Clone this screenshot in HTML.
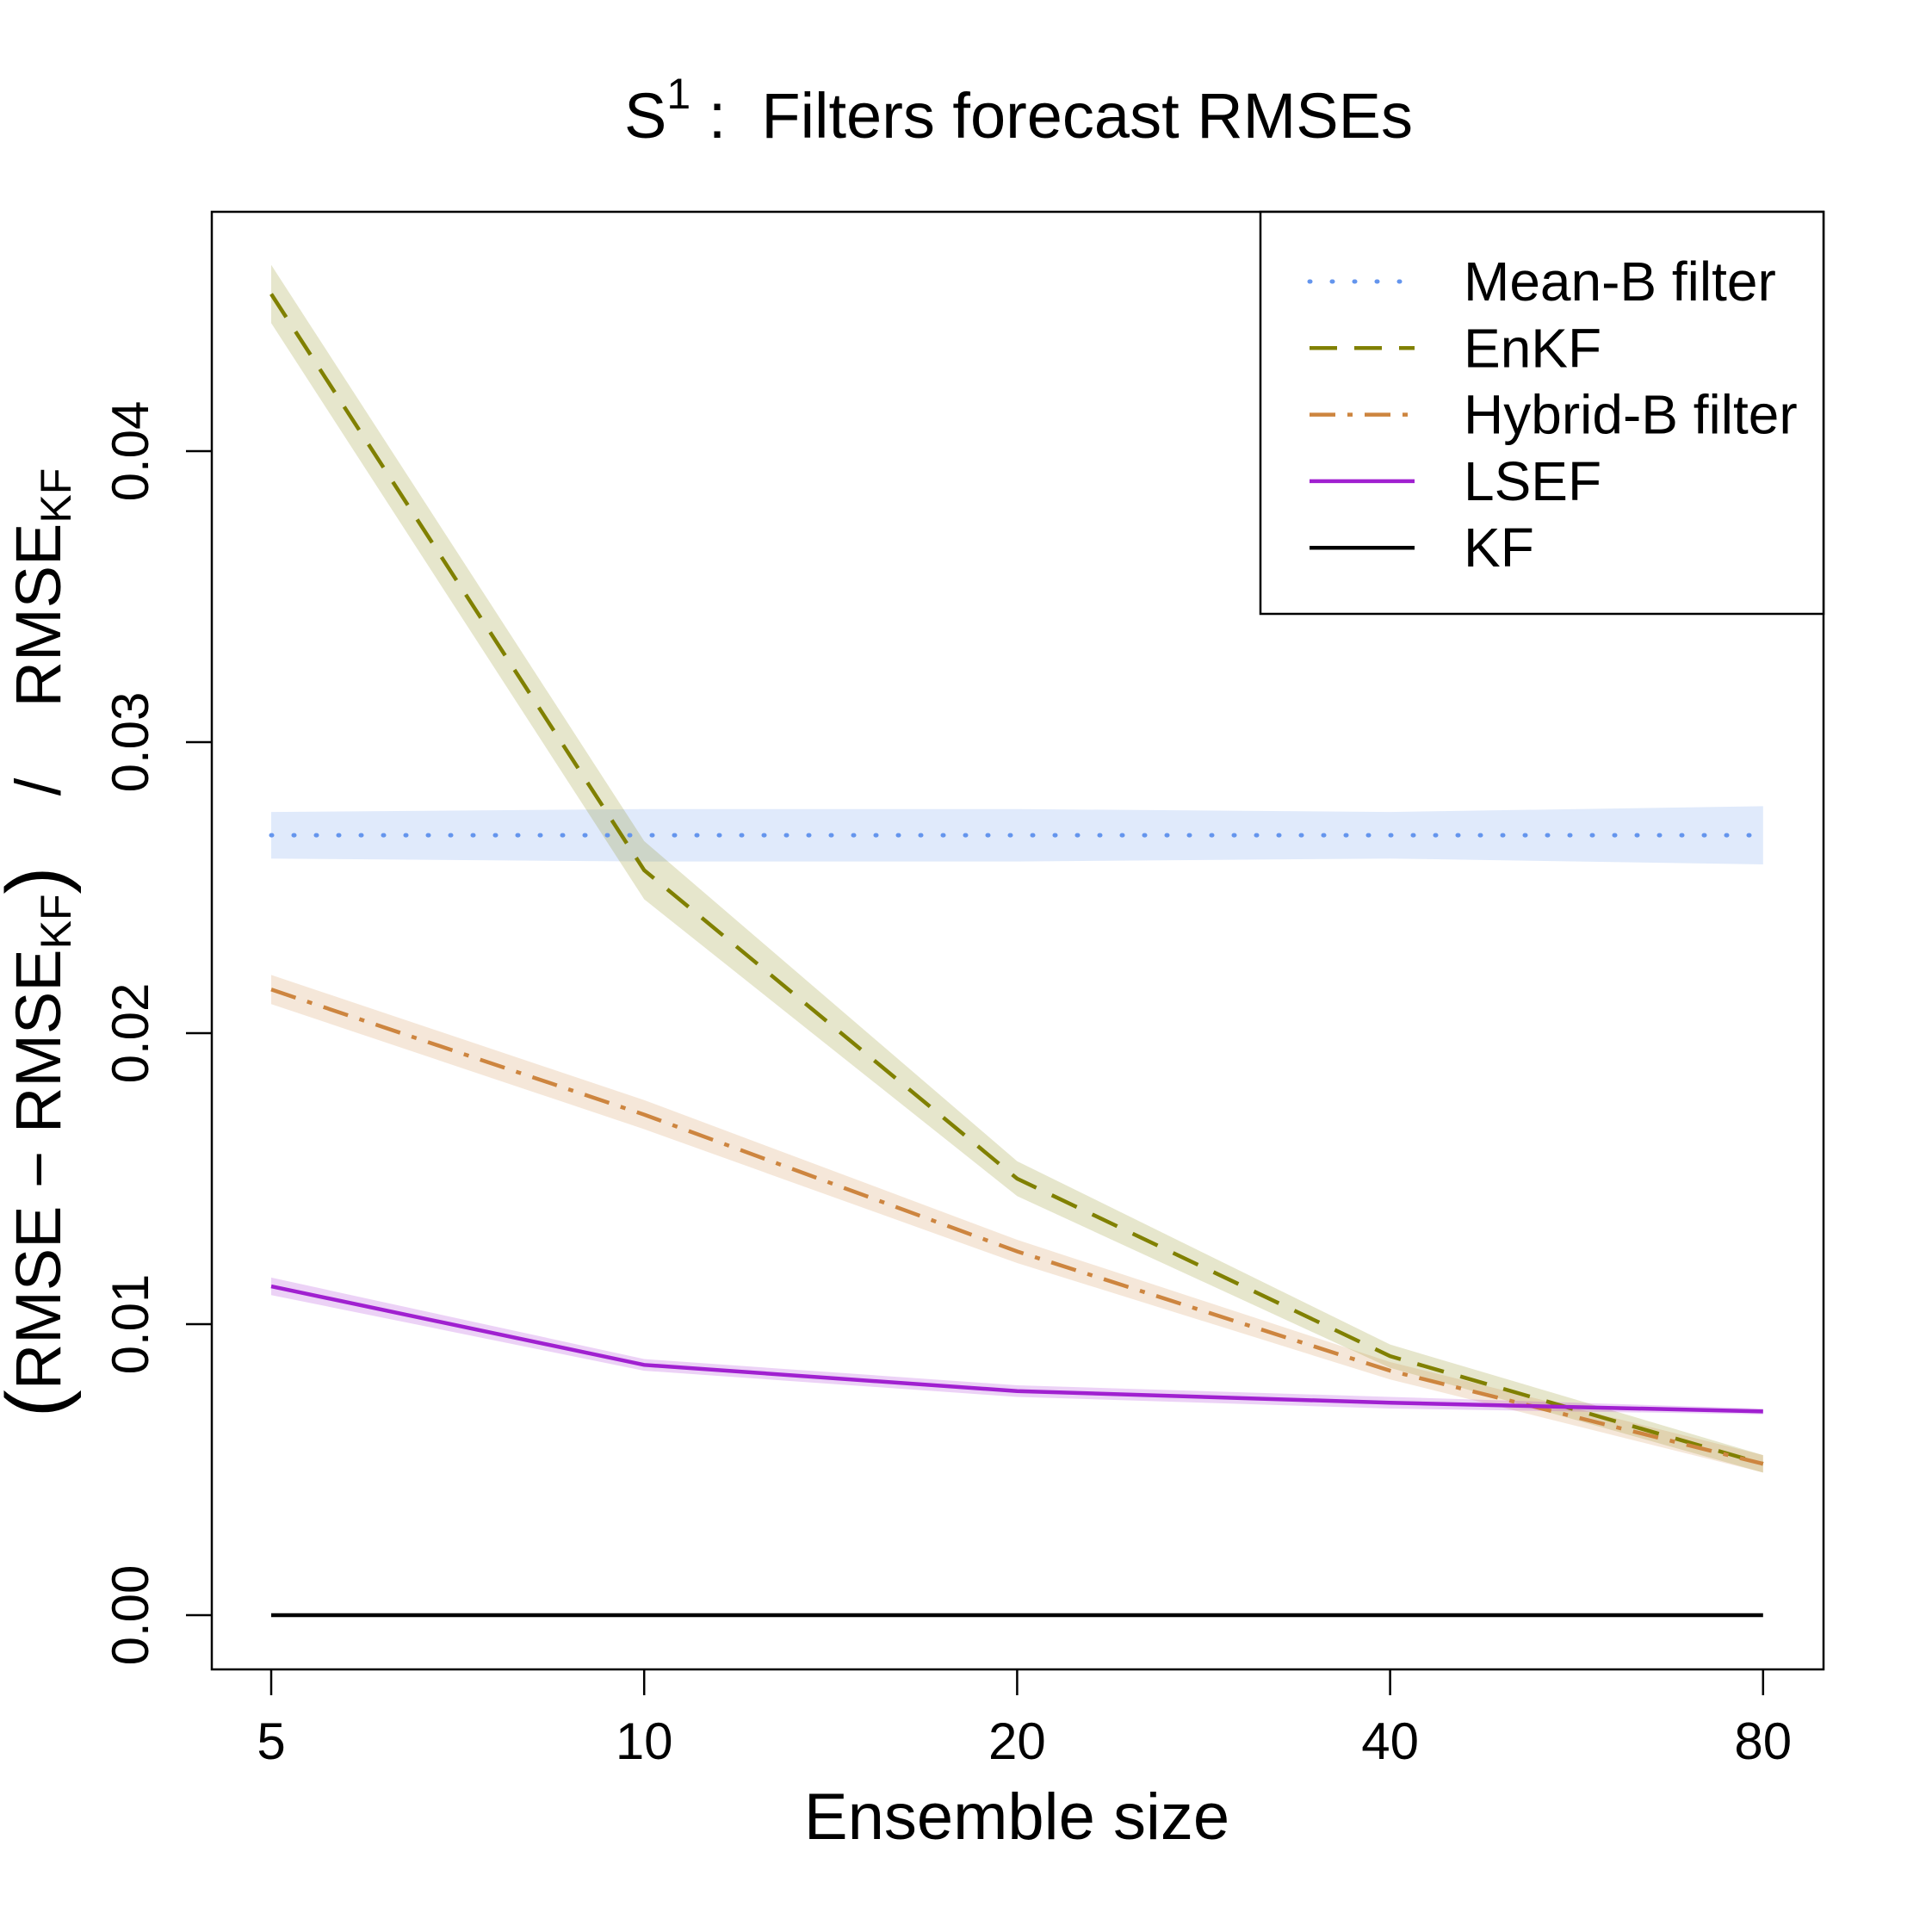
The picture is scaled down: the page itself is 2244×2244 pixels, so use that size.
<!DOCTYPE html>
<html><head><meta charset="utf-8"><style>
html,body{margin:0;padding:0;background:#fff}
svg{display:block;font-family:"Liberation Sans",Arial,sans-serif}
</style></head><body>
<svg id="chart" width="2244" height="2244" viewBox="0 0 2244 2244">
<rect width="2244" height="2244" fill="#fff"/>
<text x="1183" y="160" font-size="74" text-anchor="middle" xml:space="preserve">S<tspan dy="-34" font-size="50">1</tspan><tspan dy="34"> :  Filters forecast RMSEs</tspan></text>
<g id="bands"></g><g id="lines"></g>
<rect x="246" y="246" width="1872" height="1693" fill="none" stroke="#000" stroke-width="2.5"/>
<g id="axes"></g>
<text x="1181" y="2136" font-size="76" text-anchor="middle">Ensemble size</text>
<text transform="translate(70,1095) rotate(-90)" font-size="74" text-anchor="middle" xml:space="preserve"><tspan font-size="96" dy="4">(</tspan><tspan dy="-4">RMSE − RMSE</tspan><tspan font-size="50" dy="12">KF</tspan><tspan font-size="96" dy="-8">)</tspan><tspan dy="-4">    /    RMSE</tspan><tspan font-size="50" dy="12">KF</tspan></text>
<g>
<rect x="1464" y="246" width="654" height="467" fill="#fff" stroke="#000" stroke-width="2.5"/>
<g id="legend"></g></g>
</svg>
<script>
const sizes=[5,10,20,40,80];
const xTicks=["5","10","20","40","80"];
const yTicks=[0,0.01,0.02,0.03,0.04];
const yTickLabels=["0.00","0.01","0.02","0.03","0.04"];
const meanB=[0.0268,0.0268,0.0268,0.0268,0.0268];
const meanBErr=[0.0008,0.0009,0.0009,0.0008,0.0010];
const enkf=[0.0454,0.0256,0.0150,0.0089,0.0052];
const enkfErr=[0.0010,0.0010,0.0006,0.0004,0.0003];
const hybrid=[0.0215,0.0172,0.0125,0.0084,0.0052];
const hybridErr=[0.0005,0.0005,0.0004,0.0003,0.0003];
const lsef=[0.0113,0.0086,0.0077,0.0073,0.0070];
const lsefErr=[0.0003,0.0002,0.0002,0.0002,0.0001];
const kf=[0,0,0,0,0];
const seriesNames=["Mean-B filter","EnKF","Hybrid-B filter","LSEF","KF"];
const NS="http://www.w3.org/2000/svg";
function X(n){return 315+Math.log2(n/5)*433.2;}
function Y(v){return 1876-v*33800;}
function mk(t,a,p){const e=document.createElementNS(NS,t);for(const k in a)e.setAttribute(k,a[k]);p.appendChild(e);return e;}
const series=[
 {v:meanB,e:meanBErr,c:"#6495ED",f:"rgba(100,149,237,0.2)",d:"1 25",cap:"round",k:"mean-b"},
 {v:enkf,e:enkfErr,c:"#808000",f:"rgba(128,128,0,0.2)",d:"32 20",cap:"butt",k:"enkf"},
 {v:hybrid,e:hybridErr,c:"#CD853F",f:"rgba(205,133,63,0.2)",d:"30 14 6 14",cap:"butt",k:"hybrid-b"},
 {v:lsef,e:lsefErr,c:"#A020D0",f:"rgba(160,32,208,0.2)",d:"",cap:"butt",k:"lsef"},
 {v:kf,e:null,c:"#000",f:null,d:"",cap:"butt",k:"kf"}];
const bands=document.getElementById('bands'),lines=document.getElementById('lines');
series.forEach(s=>{
 if(s.e){
  let up=sizes.map((n,i)=>X(n)+','+Y(s.v[i]+s.e[i]));
  let lo=sizes.map((n,i)=>X(n)+','+Y(s.v[i]-s.e[i])).reverse();
  const b=mk('polygon',{points:up.concat(lo).join(' '),fill:s.f},bands);
  
  
 }
 const l=mk('polyline',{points:sizes.map((n,i)=>X(n)+','+Y(s.v[i])).join(' '),fill:'none',stroke:s.c,'stroke-width':s.k==='mean-b'?5:4.5,'stroke-dasharray':s.d,'stroke-linecap':s.cap},lines);
 
 
});
const ax=document.getElementById('axes');
sizes.forEach((n,i)=>{
 const t=mk('line',{x1:X(n),x2:X(n),y1:1939,y2:1969,stroke:'#000','stroke-width':2.5},ax);
 
 
 const tx=mk('text',{x:X(n),y:2043,'font-size':60,'text-anchor':'middle'},ax);tx.textContent=xTicks[i];
 
 
});
yTicks.forEach((v,i)=>{
 const t=mk('line',{x1:216,x2:246,y1:Y(v),y2:Y(v),stroke:'#000','stroke-width':2.5},ax);
 
 
 const tx=mk('text',{transform:`translate(172,${Y(v)}) rotate(-90)`,'font-size':60,'text-anchor':'middle'},ax);tx.textContent=yTickLabels[i];
 
 
});
const lg=document.getElementById('legend');
series.forEach((s,i)=>{
 const y=327+i*77.3;
 const l=mk('line',{x1:1521,x2:1643,y1:y,y2:y,stroke:s.c,'stroke-width':s.k==='mean-b'?5:4.5,'stroke-dasharray':s.d,'stroke-linecap':s.cap},lg);
 
 
 const t=mk('text',{x:1700,y:y+22,'font-size':64},lg);t.textContent=seriesNames[i];
 
 
});
</script>
</body></html>
